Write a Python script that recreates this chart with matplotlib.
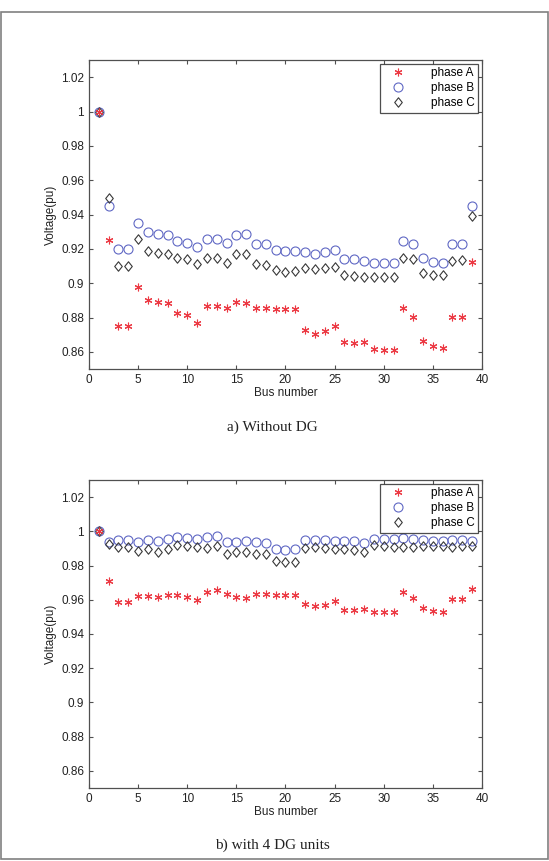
from matplotlib import pyplot as plt
from matplotlib.patches import Rectangle
from matplotlib.path import Path
import numpy as np

bus = np.arange(1, 40)

# a) without DG
phase_a_nodg = [1.0, 0.9254, 0.8752, 0.8752, 0.8975, 0.8900, 0.8888, 0.8882, 0.8824, 0.8812,
                0.8767, 0.8868, 0.8867, 0.8855, 0.8890, 0.8884, 0.8855, 0.8855, 0.8851, 0.8851,
                0.8851, 0.8727, 0.8702, 0.8723, 0.8752, 0.8655, 0.8653, 0.8655, 0.8614, 0.8612,
                0.8612, 0.8857, 0.8804, 0.8665, 0.8636, 0.8622, 0.8804, 0.8804, 0.9122]
phase_b_nodg = [1.0, 0.9448, 0.9198, 0.9198, 0.9350, 0.9297, 0.9287, 0.9281, 0.9244, 0.9236,
                0.9211, 0.9256, 0.9256, 0.9234, 0.9280, 0.9287, 0.9230, 0.9230, 0.9192, 0.9186,
                0.9190, 0.9184, 0.9169, 0.9184, 0.9194, 0.9140, 0.9140, 0.9128, 0.9120, 0.9120,
                0.9120, 0.9246, 0.9231, 0.9147, 0.9124, 0.9120, 0.9227, 0.9230, 0.9448]
phase_c_nodg = [1.0, 0.9496, 0.9100, 0.9100, 0.9258, 0.9190, 0.9176, 0.9170, 0.9147, 0.9140,
                0.9114, 0.9147, 0.9147, 0.9116, 0.9172, 0.9172, 0.9110, 0.9108, 0.9076, 0.9068,
                0.9072, 0.9091, 0.9080, 0.9087, 0.9097, 0.9045, 0.9043, 0.9035, 0.9037, 0.9037,
                0.9035, 0.9147, 0.9138, 0.9062, 0.9050, 0.9045, 0.9132, 0.9136, 0.9394]

# b) with 4 DG units
phase_a_dg = [1.0, 0.9710, 0.9587, 0.9587, 0.9621, 0.9623, 0.9614, 0.9629, 0.9627, 0.9615,
              0.9598, 0.9648, 0.9656, 0.9633, 0.9615, 0.9612, 0.9633, 0.9633, 0.9627, 0.9627,
              0.9629, 0.9575, 0.9563, 0.9571, 0.9590, 0.9542, 0.9542, 0.9546, 0.9530, 0.9527,
              0.9527, 0.9646, 0.9610, 0.9552, 0.9532, 0.9527, 0.9606, 0.9606, 0.9662]
phase_b_dg = [1.0, 0.9936, 0.9952, 0.9952, 0.9936, 0.9952, 0.9942, 0.9957, 0.9969, 0.9961,
              0.9957, 0.9965, 0.9971, 0.9938, 0.9936, 0.9942, 0.9938, 0.9932, 0.9896, 0.9890,
              0.9894, 0.9950, 0.9950, 0.9950, 0.9946, 0.9944, 0.9942, 0.9930, 0.9955, 0.9955,
              0.9955, 0.9959, 0.9955, 0.9950, 0.9942, 0.9942, 0.9950, 0.9950, 0.9942]
phase_c_dg = [1.0, 0.9927, 0.9909, 0.9909, 0.9884, 0.9898, 0.9880, 0.9898, 0.9923, 0.9915,
              0.9909, 0.9903, 0.9913, 0.9870, 0.9878, 0.9878, 0.9867, 0.9865, 0.9826, 0.9822,
              0.9822, 0.9905, 0.9911, 0.9905, 0.9898, 0.9894, 0.9890, 0.9880, 0.9921, 0.9913,
              0.9911, 0.9911, 0.9911, 0.9917, 0.9917, 0.9917, 0.9911, 0.9917, 0.9917]

yticks = [0.86, 0.88, 0.9, 0.92, 0.94, 0.96, 0.98, 1, 1.02]
ytick_labels = ['0.86', '0.88', '0.9', '0.92', '0.94', '0.96', '0.98', '1', '1.02']
xticks = [0, 5, 10, 15, 20, 25, 30, 35, 40]

plt.rcParams['font.family'] = ['Liberation Sans', 'DejaVu Sans']

fig = plt.figure(figsize=(5.49, 8.61), dpi=100)
fig.patches.append(Rectangle((0.001, 0.002), 0.997, 0.984, transform=fig.transFigure,
                             fill=False, edgecolor='#808080', linewidth=1.2))

asterisk = (6, 2, 0)
# matlab-like diamond, a bit taller than wide
diamond = Path([(0, 1), (0.8, 0), (0, -1), (-0.8, 0), (0, 1)],
               [Path.MOVETO, Path.LINETO, Path.LINETO, Path.LINETO, Path.CLOSEPOLY])
axis_color = '#505050'


def draw_panel(rect, a, b, c, caption, caption_y):
    ax = fig.add_axes(rect)
    ax.plot(bus, b, linestyle='none', marker='o', markersize=6.5, markerfacecolor='none',
            markeredgecolor='#6068c4', markeredgewidth=0.8, label='phase B')
    ax.plot(bus, c, linestyle='none', marker=diamond, markersize=6.8, markerfacecolor='none',
            markeredgecolor='#383838', markeredgewidth=0.8, label='phase C')
    ax.plot(bus, a, linestyle='none', marker=asterisk, markersize=5.5,
            markeredgecolor='#ec3a44', markeredgewidth=0.8, label='phase A')

    ax.set_xlim(0, 40)
    ax.set_ylim(0.85, 1.03)
    ax.set_xticks(xticks)
    ax.set_yticks(yticks)
    ax.set_yticklabels(ytick_labels)
    ax.tick_params(direction='in', top=True, right=True, labelsize=8.5, length=3,
                   color=axis_color, labelcolor='#222222', width=0.8)
    for s in ax.spines.values():
        s.set_color(axis_color)
        s.set_linewidth(0.9)
    ax.set_xlabel('Bus number', fontsize=8.5, labelpad=1, color='#222222')
    ax.set_ylabel('Voltage(pu)', fontsize=8.5, labelpad=3, color='#222222')

    handles, labels = ax.get_legend_handles_labels()
    order = [2, 0, 1]
    leg = ax.legend([handles[i] for i in order], [labels[i] for i in order],
                    loc='upper right', fontsize=8.5, frameon=True, fancybox=False,
                    edgecolor='#222222', borderpad=0.3, handletextpad=1.6,
                    labelspacing=0.25, handlelength=2.4, borderaxespad=0.3)
    leg.get_frame().set_linewidth(0.9)

    fig.text(0.497, caption_y, caption, ha='center', va='center', fontsize=11,
             family='Liberation Serif', color='#222222')
    return ax


draw_panel([0.1621, 0.5714, 0.7158, 0.3589], phase_a_nodg, phase_b_nodg, phase_c_nodg,
           'a) Without DG', 1 - 427 / 861)
draw_panel([0.1621, 0.0848, 0.7158, 0.3577], phase_a_dg, phase_b_dg, phase_c_dg,
           'b) with 4 DG units', 1 - 845 / 861)

fig.savefig('out.png', dpi=100)
